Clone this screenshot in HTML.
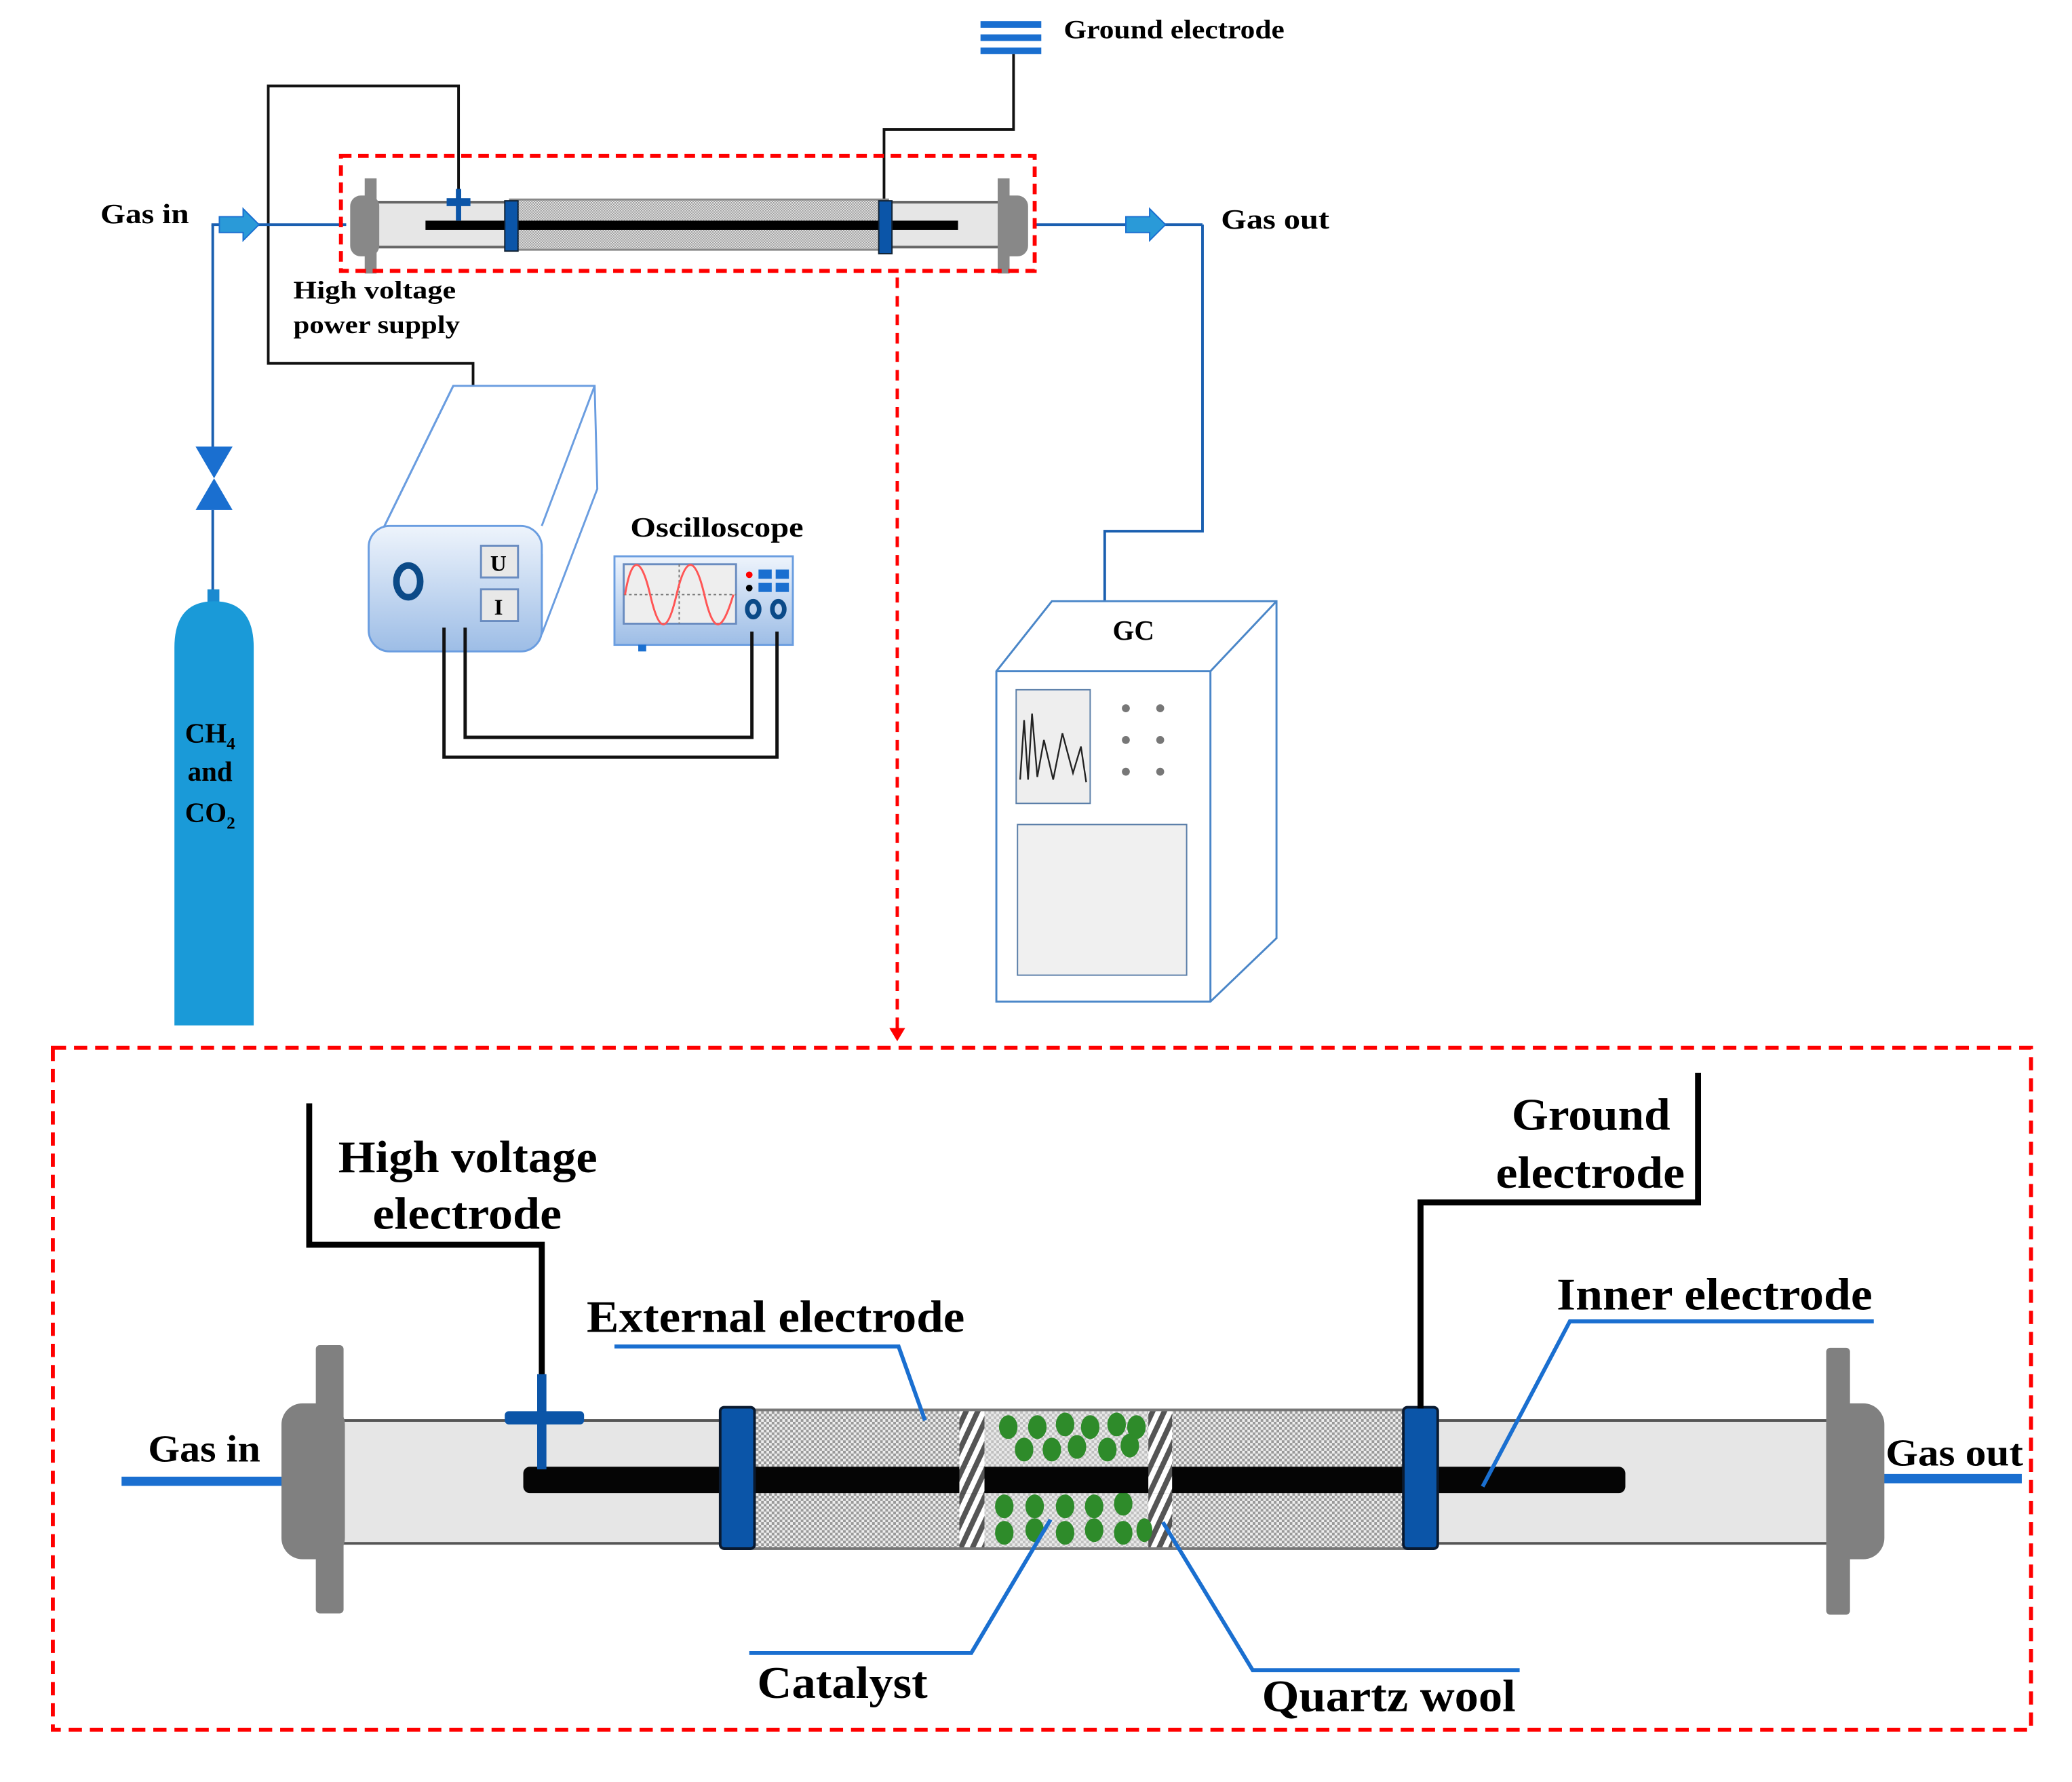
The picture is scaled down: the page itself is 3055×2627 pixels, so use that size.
<!DOCTYPE html>
<html><head><meta charset="utf-8"><style>html,body{margin:0;padding:0;background:#fff}svg{display:block}</style></head>
<body>
<svg width="3055" height="2627" viewBox="0 0 1568 1348.6" preserveAspectRatio="none" xmlns="http://www.w3.org/2000/svg" font-family="'Liberation Serif',serif" font-weight="bold">
<defs>
<pattern id="chk" width="2" height="2" patternUnits="userSpaceOnUse"><rect width="2" height="2" fill="#e8e8e8"/><rect width="1" height="1" fill="#999"/><rect x="1" y="1" width="1" height="1" fill="#999"/></pattern>
<pattern id="chk2" width="4" height="4" patternUnits="userSpaceOnUse"><rect width="4" height="4" fill="#eee"/><rect width="2" height="2" fill="#999"/><rect x="2" y="2" width="2" height="2" fill="#999"/></pattern>
<pattern id="hatch" width="8" height="8" patternUnits="userSpaceOnUse" patternTransform="rotate(25)"><rect width="8" height="8" fill="#fff"/><rect width="4" height="8" fill="#555"/></pattern>
<linearGradient id="bl" x1="0" y1="0" x2="0" y2="1"><stop offset="0" stop-color="#eef4fc"/><stop offset="1" stop-color="#9dbde6"/></linearGradient>
</defs>

<rect x="742" y="16" width="46" height="5" fill="#1a6fd0"/>
<rect x="742" y="26" width="46" height="5" fill="#1a6fd0"/>
<rect x="742" y="36" width="46" height="5" fill="#1a6fd0"/>
<text x="805" y="29" font-size="20" textLength="167" lengthAdjust="spacingAndGlyphs">Ground electrode</text>
<polyline points="767,41 767,98 669,98 669,155" fill="none" stroke="#111" stroke-width="2"/>
<polyline points="347,150 347,65 203,65 203,275 358,275 358,292" fill="none" stroke="#111" stroke-width="2"/>

<line x1="160" y1="170" x2="262" y2="170" stroke="#1a5fb0" stroke-width="2"/>
<line x1="783" y1="170" x2="910" y2="170" stroke="#1a5fb0" stroke-width="2"/>
<polyline points="161,170 161,340" fill="none" stroke="#1a5fb0" stroke-width="2"/>
<polyline points="161,386 161,450" fill="none" stroke="#1a5fb0" stroke-width="2"/>
<polyline points="910,170 910,402 836,402 836,455" fill="none" stroke="#1a5fb0" stroke-width="2"/>
<path d="M166,164 h18 v-6 l12,12 l-12,12 v-6 h-18z" fill="#2a9ad8" stroke="#1a6fd0"/>
<path d="M852,164 h18 v-6 l12,12 l-12,12 v-6 h-18z" fill="#2a9ad8" stroke="#1a6fd0"/>
<text x="76" y="169" font-size="21" textLength="67" lengthAdjust="spacingAndGlyphs">Gas in</text>
<text x="924" y="173" font-size="21" textLength="82" lengthAdjust="spacingAndGlyphs">Gas out</text>

<rect x="283" y="153" width="477" height="34" fill="#e6e6e6" stroke="#666" stroke-width="2"/>
<rect x="386" y="151" width="286" height="38" fill="url(#chk)" stroke="#888" stroke-width="1.5"/>
<rect x="322" y="167" width="403" height="7" fill="#000"/>
<rect x="382" y="152" width="10" height="38" fill="#0b55a8" stroke="#123"/>
<rect x="665" y="152" width="10" height="40" fill="#0b55a8" stroke="#123"/>
<rect x="265" y="148" width="22" height="46" rx="8" fill="#888"/>
<rect x="276" y="135" width="9" height="72" fill="#888"/>
<rect x="756" y="148" width="22" height="46" rx="8" fill="#888"/>
<rect x="755" y="135" width="9" height="72" fill="#888"/>
<line x1="347" y1="143" x2="347" y2="167" stroke="#0b55a8" stroke-width="4"/>
<rect x="338" y="150" width="18" height="6" fill="#0b55a8"/>
<rect x="258" y="118" width="525" height="87" fill="none" stroke="#f00" stroke-width="3" stroke-dasharray="8,5"/>
<line x1="679" y1="210" x2="679" y2="780" stroke="#f00" stroke-width="2.5" stroke-dasharray="8,6"/>
<path d="M673,778 l6,10 l6,-10z" fill="#f00"/>
<text x="222" y="226" font-size="19" textLength="123" lengthAdjust="spacingAndGlyphs">High voltage</text>
<text x="222" y="252" font-size="19" textLength="126" lengthAdjust="spacingAndGlyphs">power supply</text>

<path d="M148,338 l28,0 l-14,24z M148,386 l28,0 l-14,-24z" fill="#1a6fd0"/>
<rect x="157" y="446" width="9" height="12" fill="#1a8ad0"/>
<path d="M132,776 V490 Q132,455 162,455 Q192,455 192,490 V776z" fill="#1a9ad8"/>
<text x="140" y="562" font-size="21">CH<tspan font-size="13" dy="5">4</tspan></text>
<text x="142" y="591" font-size="21">and</text>
<text x="140" y="622" font-size="21">CO<tspan font-size="13" dy="5">2</tspan></text>

<path d="M343,292 L450,292 L452,370 L410,480 L410,420 L290,400z" fill="#fff" stroke="#6a9de0" stroke-width="1.5"/>
<line x1="343" y1="292" x2="290" y2="400" stroke="#6a9de0" stroke-width="1.5"/>
<line x1="450" y1="292" x2="410" y2="398" stroke="#6a9de0" stroke-width="1.5"/>
<rect x="279" y="398" width="131" height="95" rx="16" fill="url(#bl)" stroke="#6a9de0" stroke-width="1.5"/>
<ellipse cx="309" cy="440" rx="9" ry="12" fill="none" stroke="#0b4a88" stroke-width="5"/>
<rect x="364" y="413" width="28" height="24" fill="#e8e8e8" stroke="#6a8cc0" stroke-width="1.5"/>
<rect x="364" y="446" width="28" height="24" fill="#e8e8e8" stroke="#6a8cc0" stroke-width="1.5"/>
<text x="371" y="432" font-size="17">U</text>
<text x="374" y="465" font-size="17">I</text>
<text x="477" y="406" font-size="21" textLength="131" lengthAdjust="spacingAndGlyphs">Oscilloscope</text>
<rect x="465" y="421" width="135" height="67" fill="url(#bl)" stroke="#6a9de0" stroke-width="1.5"/>
<rect x="472" y="427" width="85" height="45" fill="#eee" stroke="#6a8cc0" stroke-width="1.5"/>
<line x1="472" y1="450" x2="557" y2="450" stroke="#777" stroke-dasharray="2,2"/>
<line x1="514" y1="427" x2="514" y2="472" stroke="#777" stroke-dasharray="2,2"/>
<path d="M473,450 C478,420 485,420 492,450 S505,480 512,450 S526,420 533,450 S546,480 555,450" fill="none" stroke="#f55" stroke-width="1.5"/>
<circle cx="567" cy="435" r="2.5" fill="#f00"/><circle cx="567" cy="445" r="2.5" fill="#000"/>
<rect x="574" y="431" width="10" height="7" fill="#1a6fd0"/><rect x="587" y="431" width="10" height="7" fill="#1a6fd0"/>
<rect x="574" y="441" width="10" height="7" fill="#1a6fd0"/><rect x="587" y="441" width="10" height="7" fill="#1a6fd0"/>
<ellipse cx="570" cy="461" rx="4.5" ry="6" fill="none" stroke="#0b4a88" stroke-width="3.5"/>
<ellipse cx="589" cy="461" rx="4.5" ry="6" fill="none" stroke="#0b4a88" stroke-width="3.5"/>
<rect x="483" y="488" width="6" height="5" fill="#1a6fd0"/>
<polyline points="336,475 336,573 588,573 588,478" fill="none" stroke="#111" stroke-width="2.5"/>
<polyline points="352,475 352,558 569,558 569,478" fill="none" stroke="#111" stroke-width="2.5"/>

<path d="M754,508 L796,455 L966,455 L966,710 L916,758 L754,758z" fill="#fff" stroke="#4a86c8" stroke-width="1.5"/>
<path d="M754,508 L916,508 L966,455 M916,508 L916,758" fill="none" stroke="#4a86c8" stroke-width="1.5"/>
<text x="842" y="484" font-size="21">GC</text>
<rect x="769" y="522" width="56" height="86" fill="#eee" stroke="#5a7ea8"/>
<path d="M772,590 L775,545 L778,590 L781,540 L785,588 L790,560 L797,590 L804,555 L812,585 L818,565 L822,592" fill="none" stroke="#222" stroke-width="1.2"/>
<g fill="#777"><circle cx="852" cy="536" r="3"/><circle cx="878" cy="536" r="3"/><circle cx="852" cy="560" r="3"/><circle cx="878" cy="560" r="3"/><circle cx="852" cy="584" r="3"/><circle cx="878" cy="584" r="3"/></g>
<rect x="770" y="624" width="128" height="114" fill="#f0f0f0" stroke="#5a7ea8"/>

<rect x="40" y="793" width="1497" height="516" fill="none" stroke="#f00" stroke-width="3" stroke-dasharray="10,6"/>

<line x1="92" y1="1121" x2="215" y2="1121" stroke="#1a6fd0" stroke-width="7"/>
<line x1="1422" y1="1119" x2="1530" y2="1119" stroke="#1a6fd0" stroke-width="7"/>
<rect x="258" y="1075" width="1127" height="93" fill="#e6e6e6" stroke="#555" stroke-width="2"/>
<rect x="556" y="1067" width="520" height="105" fill="url(#chk2)" stroke="#777" stroke-width="2"/>
<rect x="726" y="1068" width="19" height="103" fill="url(#hatch)"/>
<rect x="869" y="1068" width="18" height="103" fill="url(#hatch)"/>
<rect x="745" y="1068" width="124" height="103" fill="#e5e5e5" opacity="0.5"/>
<g fill="#2e8b2a">
<ellipse cx="763" cy="1080" rx="7" ry="9"/><ellipse cx="785" cy="1080" rx="7" ry="9"/><ellipse cx="806" cy="1078" rx="7" ry="9"/><ellipse cx="825" cy="1080" rx="7" ry="9"/><ellipse cx="845" cy="1078" rx="7" ry="9"/><ellipse cx="860" cy="1080" rx="7" ry="9"/>
<ellipse cx="775" cy="1097" rx="7" ry="9"/><ellipse cx="796" cy="1097" rx="7" ry="9"/><ellipse cx="815" cy="1095" rx="7" ry="9"/><ellipse cx="838" cy="1097" rx="7" ry="9"/><ellipse cx="855" cy="1094" rx="7" ry="9"/>
<ellipse cx="760" cy="1140" rx="7" ry="9"/><ellipse cx="783" cy="1140" rx="7" ry="9"/><ellipse cx="806" cy="1140" rx="7" ry="9"/><ellipse cx="828" cy="1140" rx="7" ry="9"/><ellipse cx="850" cy="1138" rx="7" ry="9"/>
<ellipse cx="760" cy="1160" rx="7" ry="9"/><ellipse cx="783" cy="1158" rx="7" ry="9"/><ellipse cx="806" cy="1160" rx="7" ry="9"/><ellipse cx="828" cy="1158" rx="7" ry="9"/><ellipse cx="850" cy="1160" rx="7" ry="9"/><ellipse cx="866" cy="1158" rx="6" ry="9"/>
</g>
<rect x="396" y="1110" width="834" height="20" rx="5" fill="#050505"/>
<rect x="726" y="1110" width="19" height="20" fill="url(#hatch)"/>
<rect x="869" y="1110" width="18" height="20" fill="url(#hatch)"/>
<rect x="545" y="1065" width="26" height="107" rx="3" fill="#0b55a8" stroke="#0a1a30" stroke-width="2"/>
<rect x="1062" y="1065" width="26" height="107" rx="3" fill="#0b55a8" stroke="#0a1a30" stroke-width="2"/>
<rect x="213" y="1062" width="48" height="118" rx="16" fill="#808080"/>
<rect x="239" y="1018" width="21" height="203" rx="3" fill="#808080"/>
<rect x="1382" y="1062" width="44" height="118" rx="16" fill="#808080"/>
<rect x="1382" y="1020" width="18" height="202" rx="3" fill="#808080"/>
<polyline points="234,835 234,942 410,942 410,1050" fill="none" stroke="#000" stroke-width="4.5"/>
<line x1="410" y1="1040" x2="410" y2="1112" stroke="#0b55a8" stroke-width="7"/>
<rect x="382" y="1068" width="60" height="10" rx="3" fill="#0b55a8"/>
<polyline points="1285,812 1285,910 1075,910 1075,1066" fill="none" stroke="#000" stroke-width="4.5"/>
<g fill="none" stroke="#1a6fd0" stroke-width="3">
<polyline points="465,1019 680,1019 700,1075"/>
<polyline points="1418,1000 1188,1000 1122,1125"/>
<polyline points="567,1251 735,1251 795,1150"/>
<polyline points="1150,1264 948,1264 880,1152"/>
</g>
<g font-size="34">
<text x="256" y="887" textLength="196" lengthAdjust="spacingAndGlyphs">High voltage</text>
<text x="282" y="930" textLength="143" lengthAdjust="spacingAndGlyphs">electrode</text>
<text x="444" y="1008" textLength="286" lengthAdjust="spacingAndGlyphs">External electrode</text>
<text x="1144" y="855" textLength="120" lengthAdjust="spacingAndGlyphs">Ground</text>
<text x="1132" y="899" textLength="143" lengthAdjust="spacingAndGlyphs">electrode</text>
<text x="1178" y="991" textLength="239" lengthAdjust="spacingAndGlyphs">Inner electrode</text>
<text x="573" y="1285" textLength="129" lengthAdjust="spacingAndGlyphs">Catalyst</text>
<text x="955" y="1295" textLength="192" lengthAdjust="spacingAndGlyphs">Quartz wool</text>
</g>
<text x="112" y="1106" font-size="29" textLength="85" lengthAdjust="spacingAndGlyphs">Gas in</text>
<text x="1427" y="1109" font-size="29" textLength="104" lengthAdjust="spacingAndGlyphs">Gas out</text>
</svg>
</body></html>
